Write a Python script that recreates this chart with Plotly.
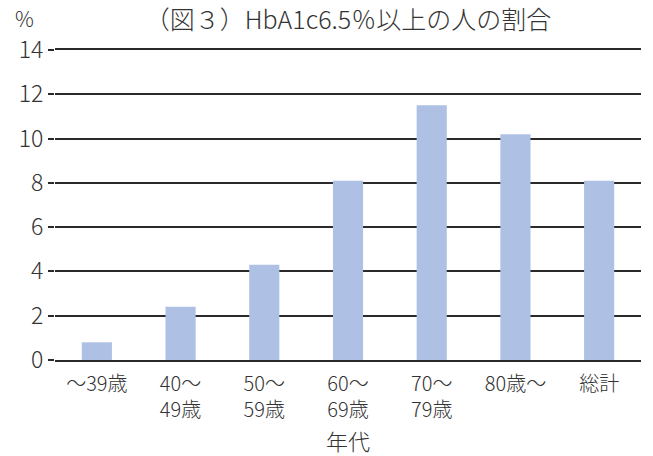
import plotly.graph_objects as go

categories = ["～39歳", "40～<br>49歳", "50～<br>59歳", "60～<br>69歳", "70～<br>79歳", "80歳～", "総計"]
values = [0.8, 2.4, 4.3, 8.1, 11.5, 10.2, 8.1]
y_ticks = [0, 2, 4, 6, 8, 10, 12, 14]

FONT = "Noto Sans CJK JP"
TXT = "#333333"
W = 300
LINE = "#2a2a2a"

fig = go.Figure(go.Bar(x=categories, y=values, marker_color="#aec0e3",
                       marker_line_width=0, width=0.36))

fig.update_layout(
    width=653, height=456,
    margin=dict(l=55, r=12, t=50, b=96, autoexpand=False),
    paper_bgcolor="white", plot_bgcolor="white",
    font=dict(family=FONT, color=TXT, size=20, weight=W),
    showlegend=False,
    title=dict(text="（図３）HbA1c6.5％以上の人の割合", x=(55 + 641) / 2 / 653, xanchor="center",
               y=1 - 20 / 456, yanchor="middle", font=dict(size=25, family=FONT, color=TXT, weight=W)),
)
fig.add_annotation(text="%", xref="paper", yref="paper", x=(24 - 55) / 586, y=(360 - 18) / 310,
                   xanchor="center", yanchor="middle", showarrow=False,
                   font=dict(size=21, family=FONT, color=TXT, weight=W))
fig.add_annotation(text="年代", xref="paper", yref="paper", x=0.5, y=(360 - 440) / 310,
                   xanchor="center", yanchor="middle", showarrow=False,
                   font=dict(size=22, family=FONT, color=TXT, weight=W))

fig.update_yaxes(range=[0, 14], tickvals=y_ticks, showgrid=True, gridcolor=LINE,
                 gridwidth=1.5, zeroline=False,
                 ticks="outside", ticklen=6, tickcolor=LINE, tickwidth=1.5,
                 tickfont=dict(size=23, family=FONT, color=TXT, weight=W), showline=False,
                 automargin=False)
fig.update_xaxes(tickfont=dict(size=20, family=FONT, color=TXT, weight=W),
                 showline=True, mirror=True, linecolor=LINE, linewidth=1.5,
                 ticks="", tickangle=0, automargin=False, ticklabelstandoff=5)

fig.write_html("out.html", post_script="document.body.style.margin='0';",
               config={"displayModeBar": False})
